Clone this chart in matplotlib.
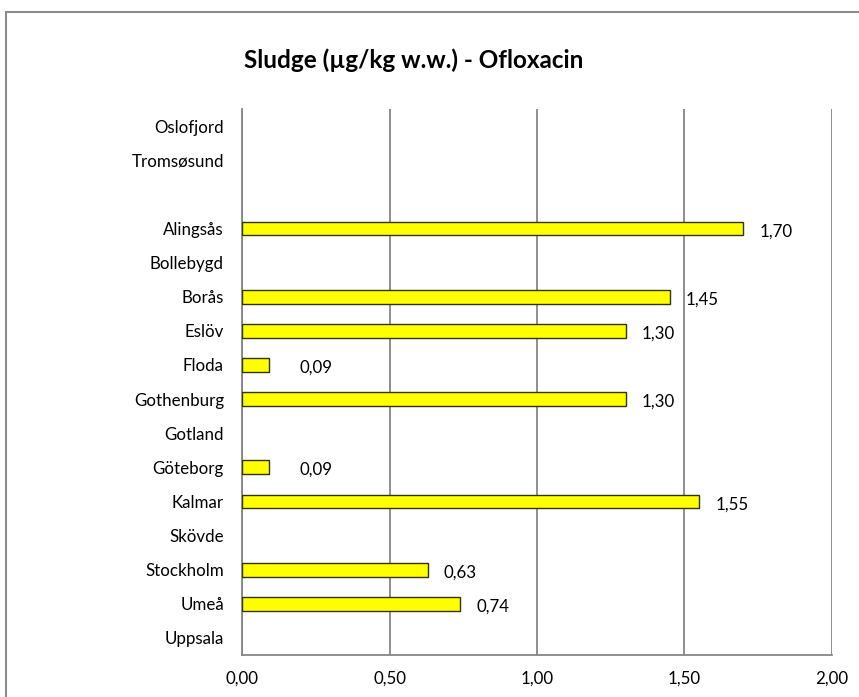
import matplotlib
matplotlib.use("Agg")
import matplotlib.pyplot as plt
from matplotlib.patches import Rectangle
from matplotlib.ticker import FixedLocator, FuncFormatter

# Sites listed top to bottom; an empty string leaves a spacer row
sites = ["Oslofjord", "Tromsøsund", "", "Alingsås", "Bollebygd", "Borås",
         "Eslöv", "Floda", "Gothenburg", "Gotland", "Göteborg", "Kalmar",
         "Skövde", "Stockholm", "Umeå", "Uppsala"]
# Ofloxacin in sludge (µg/kg w.w.); None = no value
values = [None, None, None, 1.70, None, 1.45, 1.30, 0.09, 1.30, None,
          0.09, 1.55, None, 0.63, 0.74, None]
x_ticks = [0.0, 0.5, 1.0, 1.5, 2.0]

plt.rcParams['font.family'] = ['Lato', 'DejaVu Sans']

W, H = 859, 697
FS = 12.2
fig = plt.figure(figsize=(W / 100, H / 100), dpi=100)
# plot area in pixels: left 242, right 832, top 109, bottom 655
ax = fig.add_axes([242 / W, 1 - 655 / H, (832 - 242) / W, (655 - 109) / H])

n = len(sites)
ypos = list(range(n))
for y, v in zip(ypos, values):
    if v is not None:
        ax.barh(y, v, height=0.4, color="#FFFF00", edgecolor="#333300",
                linewidth=1.0, zorder=3)
        off = 16 if v > 0.3 else 31
        ax.annotate(f"{v:.2f}".replace(".", ","), xy=(v, y),
                    xytext=(off * 0.72, -2), textcoords="offset points",
                    ha="left", va="center", fontsize=FS, color="black")

ax.set_xlim(0, 2.0)
ax.set_ylim(n - 0.5, -0.5)
ax.xaxis.set_major_locator(FixedLocator(x_ticks))
ax.xaxis.set_major_formatter(FuncFormatter(lambda v, p: f"{v:.2f}".replace(".", ",")))
ax.set_yticks(ypos)
ax.set_yticklabels(sites)
ax.tick_params(axis="both", length=0, labelsize=FS, colors="black")
ax.tick_params(axis="x", pad=11)
ax.tick_params(axis="y", pad=13)
ax.grid(axis="x", color="#868686", linewidth=1.3, zorder=0)
ax.set_axisbelow(True)
for side in ["top", "right"]:
    ax.spines[side].set_visible(False)
for side in ["left", "bottom"]:
    ax.spines[side].set_color("#868686")
    ax.spines[side].set_linewidth(1.3)

fig.text(414 / W, 1 - 60 / H, "Sludge (µg/kg w.w.) - Ofloxacin",
         ha="center", va="center", fontsize=17.5, fontweight="bold")

# outer chart frame
fig.patches.append(Rectangle((6 / W, -0.05), 1.1, 1 - 12 / H + 0.05,
                             transform=fig.transFigure, fill=False,
                             edgecolor="#8C8C8C", linewidth=1.5))

fig.savefig("out.png", dpi=100)
